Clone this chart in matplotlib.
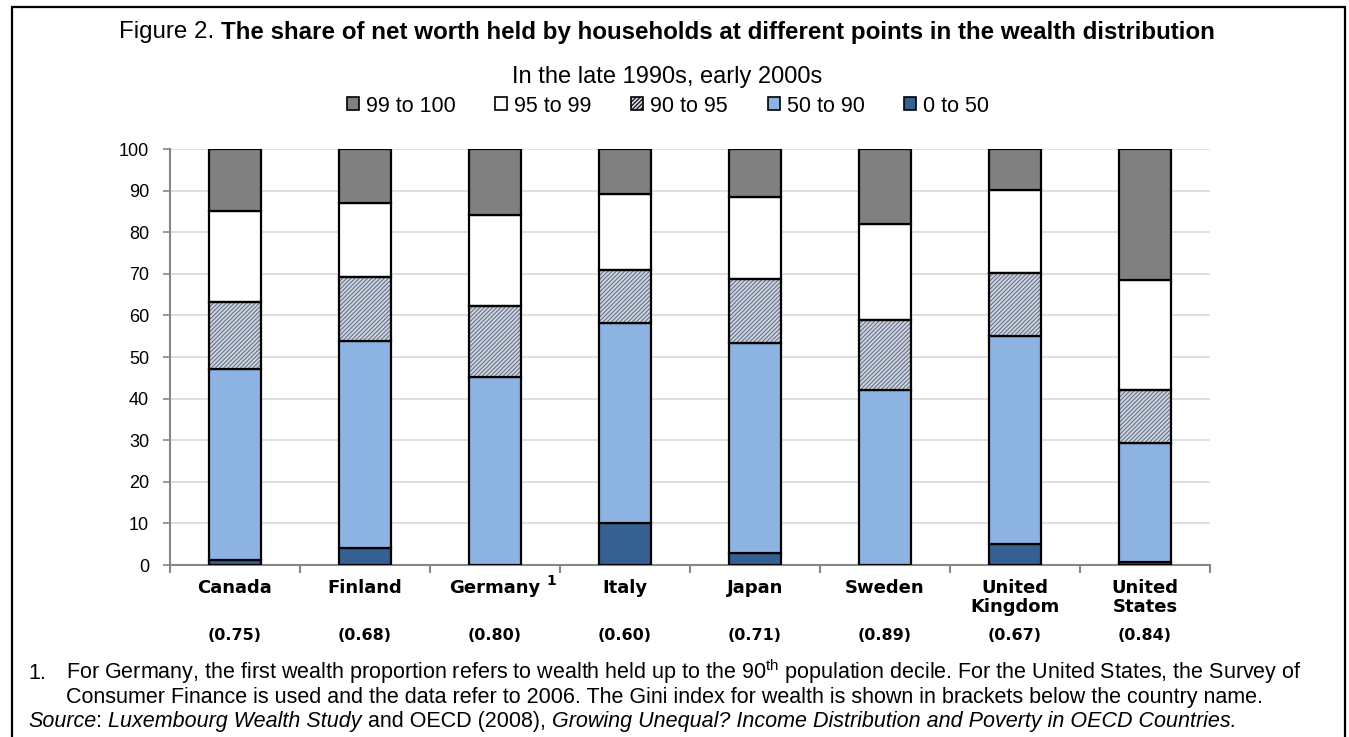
import matplotlib
matplotlib.use('Agg')
import matplotlib.pyplot as plt
from matplotlib.patches import Patch, Rectangle
from matplotlib.transforms import blended_transform_factory

# ---------------- data ----------------
countries = ['Canada', 'Finland', 'Germany', 'Italy', 'Japan', 'Sweden',
             'United\nKingdom', 'United\nStates']
gini = ['(0.75)', '(0.68)', '(0.80)', '(0.60)', '(0.71)', '(0.89)', '(0.67)', '(0.84)']
share_0_50 = [1.2, 4.1, 0.0, 10.1, 2.9, 0.0, 5.0, 0.7]
share_50_90 = [45.9, 49.7, 45.2, 48.1, 50.5, 42.1, 50.0, 28.6]
share_90_95 = [16.1, 15.4, 17.1, 12.7, 15.4, 16.8, 15.2, 12.8]
share_95_99 = [21.9, 17.8, 21.8, 18.3, 19.7, 23.1, 19.9, 26.4]
share_99_100 = [14.9, 13.0, 15.9, 10.8, 11.5, 18.0, 9.9, 31.5]
series_labels = ['0 to 50', '50 to 90', '90 to 95', '95 to 99', '99 to 100']
y_ticks = [0, 10, 20, 30, 40, 50, 60, 70, 80, 90, 100]

# ---------------- style ----------------
plt.rcParams['font.family'] = ['Liberation Sans', 'DejaVu Sans']
plt.rcParams['mathtext.fontset'] = 'custom'
plt.rcParams['mathtext.rm'] = 'Liberation Sans'
plt.rcParams['hatch.linewidth'] = 0.8

W, H = 1349, 737
fig = plt.figure(figsize=(W / 100, H / 100), dpi=100)
ax = fig.add_axes([170 / W, 1 - 565 / H, 1040 / W, 416 / H])

series = [share_0_50, share_50_90, share_90_95, share_95_99, share_99_100]
colors = ['#366092', '#8db3e2', '#d0d6e0', '#ffffff', '#808080']
hatches = [None, None, '////////', None, None]
x = list(range(len(countries)))
bw = 0.4
bottom = [0.0] * len(countries)
for vals, col, h in zip(series, colors, hatches):
    if h:
        ax.bar(x, vals, bw, bottom=bottom, color=col, edgecolor='#66728a',
               linewidth=0, hatch=h, zorder=3)
        ax.bar(x, vals, bw, bottom=bottom, fill=False, edgecolor='black',
               linewidth=1.6, zorder=4)
    else:
        ax.bar(x, vals, bw, bottom=bottom, color=col, edgecolor='black',
               linewidth=1.6, zorder=3)
    bottom = [b + v for b, v in zip(bottom, vals)]

ax.set_xlim(-0.5, len(countries) - 0.5)
ax.set_ylim(0, 100)
ax.set_yticks(y_ticks)
ax.tick_params(axis='y', labelsize=13, length=5, color='#868686', width=1.2, pad=10)
ax.set_xticks(x)
ax.set_xticklabels(countries, fontsize=13, fontweight='bold', family='DejaVu Sans',
                   linespacing=1.05)
ax.tick_params(axis='x', which='major', length=0, pad=10)
ax.set_xticks([i - 0.5 for i in range(len(countries) + 1)], minor=True)
ax.tick_params(axis='x', which='minor', length=6, color='#868686', width=1.5)
ax.grid(axis='y', color='#dcdcdc', linewidth=1.3, zorder=0)
ax.set_axisbelow(True)
for s in ['top', 'right']:
    ax.spines[s].set_visible(False)
for s in ['left', 'bottom']:
    ax.spines[s].set_color('#868686')
    ax.spines[s].set_linewidth(1.5)

tr = blended_transform_factory(ax.transData, ax.transAxes)
for i, g in enumerate(gini):
    ax.text(i, (565 - 636) / 416, g, transform=tr, ha='center', va='center',
            fontsize=11.5, fontweight='bold', family='DejaVu Sans')
ax.text(2 + (551 - 495) / 130, (565 - 581) / 416, '1', transform=tr, ha='center',
        va='center', fontsize=10, fontweight='bold', family='DejaVu Sans')

# legend
handles = [Patch(facecolor=colors[i], edgecolor='black', hatch=hatches[i],
                 linewidth=1.2, label=series_labels[i]) for i in [4, 3, 2, 1, 0]]
fig.legend(handles=handles, loc='center', bbox_to_anchor=(668 / W, 1 - 106 / H),
           ncol=5, frameon=False, fontsize=15.5, handlelength=0.56, handleheight=0.56,
           handletextpad=0.32, columnspacing=1.85)

# title pieces
renderer = fig.canvas.get_renderer()
t1 = fig.text(0, 1 - 32 / H, 'Figure 2. ', fontsize=17.4, va='center', ha='left')
t2 = fig.text(0, 1 - 32 / H,
              'The share of net worth held by households at different points in the wealth distribution',
              fontsize=17.4, fontweight='bold', va='center', ha='left')
w1 = t1.get_window_extent(renderer).width
w2 = t2.get_window_extent(renderer).width
x0 = 667 - (w1 + w2) / 2
t1.set_x(x0 / W)
t2.set_x((x0 + w1) / W)
fig.text(667 / W, 1 - 77 / H, 'In the late 1990s, early 2000s', fontsize=17,
         ha='center', va='center')

# footnotes
fs = 15.5
fig.text(28 / W, 1 - 679 / H, '1.', fontsize=fs, va='baseline', ha='left')
fig.text(66 / W, 1 - 679 / H,
         'For Germany, the first wealth proportion refers to wealth held up to the 90$^{\\mathrm{th}}$ '
         'population decile. For the United States, the Survey of',
         fontsize=fs, va='baseline', ha='left')
fig.text(66 / W, 1 - 703 / H,
         'Consumer Finance is used and the data refer to 2006. The Gini index for wealth is shown '
         'in brackets below the country name.',
         fontsize=fs, va='baseline', ha='left')
pieces = [('Source', 'italic'), (': ', 'normal'), ('Luxembourg Wealth Study', 'italic'),
          (' and OECD (2008), ', 'normal'),
          ('Growing Unequal? Income Distribution and Poverty in OECD Countries.', 'italic')]
xpos = 28
for txt, st in pieces:
    t = fig.text(xpos / W, 1 - 727 / H, txt, fontsize=fs, style=st, va='baseline', ha='left')
    xpos += t.get_window_extent(renderer).width

# frame
fig.add_artist(Rectangle((12 / W, -0.1), (1345 - 12) / W, 1.1 - 7 / H,
                         transform=fig.transFigure, fill=False, lw=1.6,
                         edgecolor='black', clip_on=False))

fig.savefig('out.png', dpi=100)
